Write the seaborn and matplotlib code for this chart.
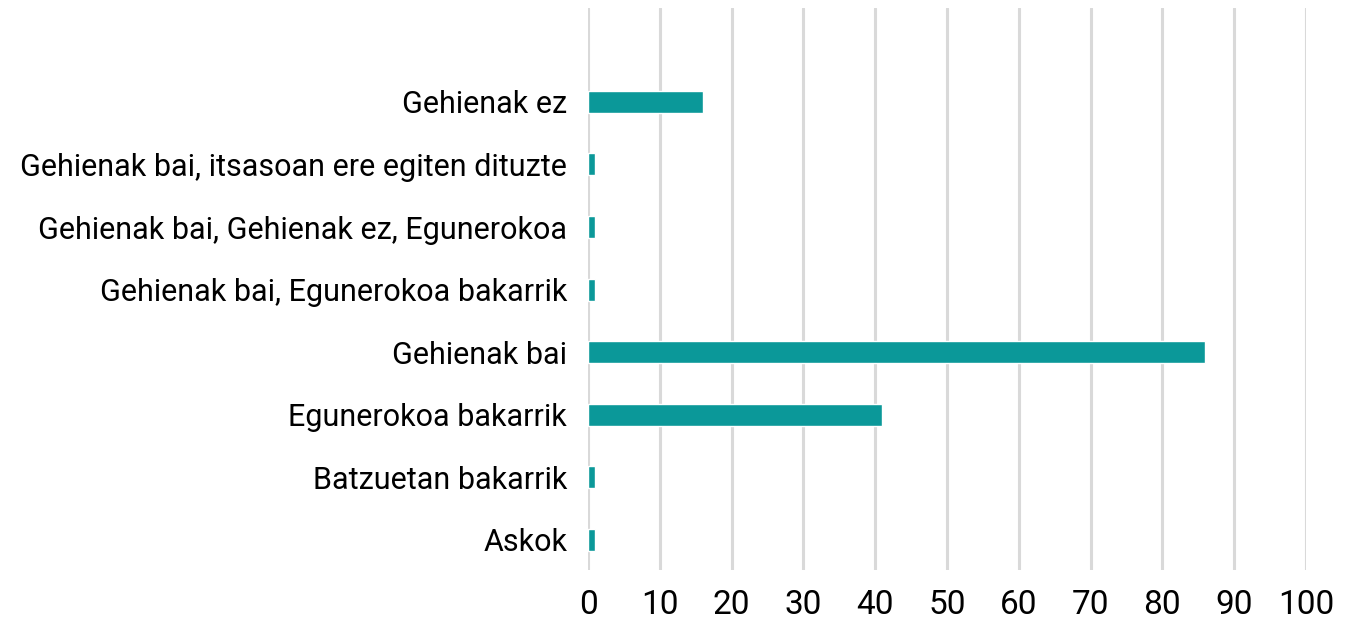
import matplotlib
matplotlib.use("Agg")
import matplotlib.pyplot as plt
import seaborn as sns
import pandas as pd

categories = [
    "Gehienak ez",
    "Gehienak bai, itsasoan ere egiten dituzte",
    "Gehienak bai, Gehienak ez, Egunerokoa",
    "Gehienak bai, Egunerokoa bakarrik",
    "Gehienak bai",
    "Egunerokoa bakarrik",
    "Batzuetan bakarrik",
    "Askok",
]
values = [16, 1, 1, 1, 86, 41, 1, 1]
x_ticks = list(range(0, 101, 10))

bar_color = "#0b9899"
grid_color = "#d9d9d9"


def main():
    sns.set_style("white")
    plt.rcParams["font.family"] = ["Roboto", "DejaVu Sans"]

    data = pd.DataFrame({"label": categories, "value": values})

    fig = plt.figure(figsize=(13.5, 6.28), dpi=100)
    ax = fig.add_axes([0.4356, 0.0924, 0.9674 - 0.4356, 0.9873 - 0.0924])

    sns.barplot(data=data, x="value", y="label", orient="h", color=bar_color,
                saturation=1, width=0.35, ax=ax, zorder=3)

    ax.set_xlim(0, 100)
    ax.set_ylim(7.48, -1.5)
    ax.set_xticks(x_ticks)
    ax.set_xticklabels([str(t) for t in x_ticks])
    for t in x_ticks:
        ax.axvline(t, color=grid_color, lw=2.2, zorder=1)

    ax.set_xlabel("")
    ax.set_ylabel("")
    for s in ax.spines.values():
        s.set_visible(False)
    ax.tick_params(axis="x", length=0, labelsize=24, pad=14, labelcolor="black")
    ax.tick_params(axis="y", length=0, labelsize=22, pad=15, labelcolor="black")

    fig.savefig("out.png", dpi=100, facecolor="white")


if __name__ == "__main__":
    main()
